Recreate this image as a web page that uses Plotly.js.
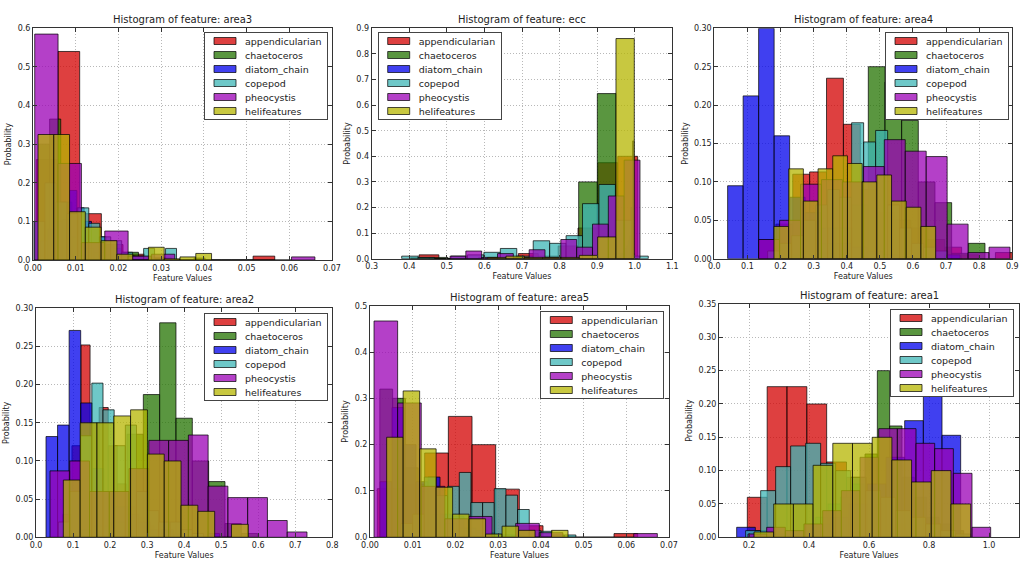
<!DOCTYPE html>
<html><head><meta charset="utf-8">
<script src="https://cdn.plot.ly/plotly-3.0.1.min.js"></script>
<style>html,body{margin:0;padding:0;background:#fff}#chart{width:1024px;height:576px}</style>
</head><body><div id="chart"></div>
<script>
// ---------------- data ----------------
const classes = ['appendicularian','chaetoceros','diatom_chain','copepod','pheocystis','helifeatures'];
const features = ['area3','ecc','area4','area2','area5','area1'];

// each series: histogram range [lo, hi] split into equal bins, probability per bin
const area3_lo = [0.00078, 0.00129, 0.00171, 0.00023, 0.0004, 0.00117];
const area3_hi = [0.0566, 0.04029, 0.0274, 0.0336, 0.066, 0.0418];
const area3_appendicularian = [0.26,0.54,0.12,0.04,0.015,0.005,0,0,0,0,0.01];
const area3_chaetoceros = [0.30,0.365,0.15,0.06,0.03,0.02,0.015,0.01,0.02,0.01,0.005,0.005,0,0,0.005];
const area3_diatom_chain = [0.05,0.08,0.1,0.105,0.18,0.135,0.10,0.08,0.06,0.04,0.03,0.02,0.01,0.005,0.005];
const area3_copepod = [0.1,0.2,0.15,0.12,0.135,0.095,0.06,0.05,0.02,0.01,0.03,0,0.03];
const area3_pheocystis = [0.585,0.25,0.045,0.075,0.01,0.015,0,0,0,0,0,0.008];
const area3_helifeatures = [0.325,0.325,0.125,0.085,0.05,0.015,0,0.033,0.003,0.008,0.017];

const ecc_lo = [0.4259, 0.4038, 0.95, 0.3798, 0.5084, 0.6086];
const ecc_hi = [1.0078, 0.9998, 0.998, 1.0361, 1.014, 0.9989];
const ecc_appendicularian = [0.015,0,0,0.005,0,0.02,0.01,0.05,0.12,0.375,0.40];
const ecc_chaetoceros = [0.005,0.005,0,0,0,0.005,0.005,0.005,0.005,0.30,0.645,0.02];
const ecc_diatom_chain = [0.005,0.01,0.01,0.015,0.02,0.03,0.04,0.05,0.07,0.09,0.2,0.46];
const ecc_copepod = [0.01,0.005,0,0.01,0.015,0.025,0.04,0.01,0.07,0.06,0.09,0.215,0.29,0.15,0.01];
const ecc_pheocystis = [0.01,0.03,0.005,0.02,0.005,0.035,0.005,0.075,0.045,0.135,0.245,0.385];
const ecc_helifeatures = [0.005,0.01,0.005,0.005,0.005,0.013,0.085,0.86];

const area4_lo = [0.1349, 0.2134, 0.0403, 0.1611, 0.1339, 0.1802];
const area4_hi = [0.9000, 0.8175, 0.7423, 0.7047, 0.893, 0.6685];
const area4_appendicularian = [0.025,0.045,0.11,0.113,0.235,0.175,0.09,0.06,0.05,0.04,0.025,0.015,0.005,0,0.008];
const area4_chaetoceros = [0.005,0.01,0.02,0.04,0.07,0.25,0.23,0.18,0.10,0.073,0.007,0.02];
const area4_diatom_chain = [0.095,0.212,0.30,0.16,0.08,0.06,0.04,0.02,0.015,0.01,0.005,0.003,0,0,0.005];
const area4_copepod = [0.01,0.02,0.03,0.05,0.07,0.09,0.08,0.177,0.152,0.167,0.07,0.04,0.02,0.015,0.01];
const area4_pheocystis = [0.025,0.05,0.097,0.103,0.10,0.12,0.155,0.14,0.133,0.045,0.008,0.015];
const area4_helifeatures = [0.042,0.117,0.075,0.117,0.134,0.124,0.10,0.109,0.075,0.067,0.042];

const area2_lo = [0.0725, 0.1134, 0.027, 0.0603, 0.0378, 0.0738];
const area2_hi = [0.3665, 0.5984, 0.4954, 0.4522, 0.7316, 0.5732];
const area2_appendicularian = [0.03,0.12,0.252,0.15,0.17,0.12,0.07,0.04,0.025,0.015,0.005,0.003];
const area2_chaetoceros = [0.01,0.015,0.02,0.135,0.187,0.281,0.156,0.10,0.073,0.018,0.005];
const area2_diatom_chain = [0.132,0.147,0.271,0.176,0.09,0.06,0.04,0.03,0.02,0.01,0.01,0.004,0,0,0.005];
const area2_copepod = [0.02,0.06,0.133,0.202,0.167,0.12,0.147,0.06,0.035,0.02,0.02,0.01,0.005];
const area2_pheocystis = [0.087,0.10,0.06,0.06,0.09,0.127,0.127,0.134,0.067,0.052,0.052,0.022,0.007];
const area2_helifeatures = [0.075,0.15,0.15,0.159,0.167,0.109,0.10,0.042,0.034,0,0.017];

const area5_lo = [0.00172, 0.0023, 0.00234, 0.00726, 0.00094, 0.0039];
const area5_hi = [0.06267, 0.0353, 0.0445, 0.0482, 0.06727, 0.04636];
const area5_appendicularian = [0.105,0.115,0.182,0.261,0.20,0.104,0.025,0,0,0,0.008];
const area5_chaetoceros = [0.32,0.3,0.15,0.1,0.05,0.03,0.02,0.01,0.01,0.005,0.005];
const area5_diatom_chain = [0.12,0.28,0.20,0.12,0.13,0.05,0.045,0.02,0.015,0.008,0.005,0.004,0.002,0.001,0];
const area5_copepod = [0.03,0.05,0.13,0.09,0.11,0.14,0.075,0.075,0.105,0.091,0.06,0.015,0.013,0.005,0.005];
const area5_pheocystis = [0.467,0.29,0.11,0.04,0.045,0,0.03,0.01,0,0,0,0.008];
const area5_helifeatures = [0.216,0.316,0.191,0.108,0.05,0.04,0.007,0.024,0.015,0,0.015];

const area1_lo = [0.1944, 0.34, 0.1589, 0.1889, 0.1967, 0.2167];
const area1_hi = [0.8556, 0.9156, 0.9056, 0.9389, 1.0056, 0.9389];
const area1_appendicularian = [0.06,0.226,0.226,0.20,0.113,0.09,0.05,0.02,0.01,0.005];
const area1_chaetoceros = [0.01,0.02,0.03,0.05,0.06,0.08,0.125,0.25,0.167,0.09,0.06,0.03,0.02,0.01];
const area1_diatom_chain = [0.015,0.01,0.005,0.01,0.02,0.03,0.05,0.08,0.12,0.175,0.32,0.153];
const area1_copepod = [0.01,0.07,0.106,0.137,0.141,0.111,0.10,0.09,0.07,0.06,0.04,0.03,0.02,0.01,0.005];
const area1_pheocystis = [0.005,0.015,0.01,0.02,0.04,0.07,0.12,0.163,0.163,0.141,0.133,0.096,0.015];
const area1_helifeatures = [0.008,0.05,0.05,0.108,0.141,0.141,0.15,0.116,0.083,0.10,0.05];

const xRanges = [[0,0.07],[0.3,1.1],[0,0.9],[0,0.8],[0,0.07],[0.1,1.1]];
const yRanges = [[0,0.6],[0,0.9],[0,0.30],[0,0.30],[0,0.5],[0,0.35]];
const xDticks = [0.01,0.1,0.1,0.1,0.01,0.2];
const yDticks = [0.1,0.1,0.05,0.05,0.1,0.05];
const xFormats = ['.2f','.1f','.1f','.1f','.2f','.1f'];
const yFormats = ['.1f','.1f','.2f','.2f','.1f','.2f'];

// lookup table built from the named arrays above
const table = {
  area3: {lo: area3_lo, hi: area3_hi, p: [area3_appendicularian, area3_chaetoceros, area3_diatom_chain, area3_copepod, area3_pheocystis, area3_helifeatures]},
  ecc:   {lo: ecc_lo,   hi: ecc_hi,   p: [ecc_appendicularian, ecc_chaetoceros, ecc_diatom_chain, ecc_copepod, ecc_pheocystis, ecc_helifeatures]},
  area4: {lo: area4_lo, hi: area4_hi, p: [area4_appendicularian, area4_chaetoceros, area4_diatom_chain, area4_copepod, area4_pheocystis, area4_helifeatures]},
  area2: {lo: area2_lo, hi: area2_hi, p: [area2_appendicularian, area2_chaetoceros, area2_diatom_chain, area2_copepod, area2_pheocystis, area2_helifeatures]},
  area5: {lo: area5_lo, hi: area5_hi, p: [area5_appendicularian, area5_chaetoceros, area5_diatom_chain, area5_copepod, area5_pheocystis, area5_helifeatures]},
  area1: {lo: area1_lo, hi: area1_hi, p: [area1_appendicularian, area1_chaetoceros, area1_diatom_chain, area1_copepod, area1_pheocystis, area1_helifeatures]}
};

// ---------------- styling ----------------
const fillColors = ['rgba(211,0,0,0.75)','rgba(35,115,0,0.75)','rgba(0,0,235,0.75)','rgba(61,181,181,0.75)','rgba(155,0,181,0.75)','rgba(181,181,0,0.75)'];
const edgeColor = 'rgba(0,0,0,0.7)';
// subplot boxes in pixels [left, right, top, bottom]
const boxes = [[33,332,28.3,260],[371.7,672.3,28.3,258.7],[714.3,1012.3,28.3,258.7],
               [36,332.3,308.3,537.3],[370,669,305.7,537.3],[719,1019,304,537.3]];
const legendPos = [{x:328,y:32,a:'right'},{x:377.7,y:32,a:'left'},{x:1009,y:32,a:'right'},
                   {x:328,y:313,a:'right'},{x:664.3,y:311,a:'right'},{x:1014,y:309,a:'right'}];
const W = 1024, H = 576;
const LEG_TOP = 9, LEG_STEP = 14, LEG_H = 88;

const data = [];
const layout = {
  width: W, height: H, margin: {l:0, r:0, t:0, b:0},
  barmode: 'overlay', paper_bgcolor: '#fff', plot_bgcolor: '#fff',
  font: {family: 'DejaVu Sans, sans-serif', size: 8, color: '#222'},
  showlegend: true, annotations: []
};

features.forEach((f, k) => {
  const t = table[f];
  const sfx = k === 0 ? '' : String(k + 1);
  const legName = 'legend' + sfx;
  classes.forEach((c, s) => {
    const p = t.p[s];
    const n = p.length;
    const w = (t.hi[s] - t.lo[s]) / n;
    const xs = p.map((_, i) => t.lo[s] + w * (i + 0.5));
    data.push({
      type: 'bar', name: c, x: xs, y: p, width: w,
      xaxis: 'x' + sfx, yaxis: 'y' + sfx, legend: legName,
      marker: {color: fillColors[s], line: {color: edgeColor, width: 1}},
      hoverinfo: 'skip'
    });
  });
  const b = boxes[k];
  const common = {
    showline: true, linecolor: '#333', linewidth: 1, mirror: 'ticks',
    ticks: 'inside', ticklen: 4, tickcolor: '#333',
    showgrid: true, gridcolor: '#b8b8b8', griddash: '1px,2px', gridwidth: 1,
    zeroline: false, automargin: false, tickfont: {size: 8, color: '#222'}
  };
  layout['xaxis' + sfx] = Object.assign({}, common, {
    domain: [b[0] / W, b[1] / W], anchor: 'y' + sfx,
    range: xRanges[k], dtick: xDticks[k], tick0: 0, tickformat: xFormats[k],
    title: {text: 'Feature Values', font: {size: 8}, standoff: 3}
  });
  layout['yaxis' + sfx] = Object.assign({}, common, {
    domain: [1 - b[3] / H, 1 - b[2] / H], anchor: 'x' + sfx,
    range: yRanges[k], dtick: yDticks[k], tick0: 0, tickformat: yFormats[k],
    title: {text: 'Probability', font: {size: 8}, standoff: 4}
  });
  const lp = legendPos[k];
  layout[legName] = {
    x: lp.x / W, y: 1 - lp.y / H, xanchor: lp.a, yanchor: 'top',
    bgcolor: '#fff', bordercolor: '#444', borderwidth: 1,
    font: {size: 9.5, color: '#222'}, traceorder: 'normal', itemwidth: 30, tracegroupgap: 0
  };
  layout.annotations.push({
    text: 'Histogram of feature: ' + f, xref: 'x' + sfx + ' domain', yref: 'y' + sfx + ' domain',
    x: 0.5, y: 1, xanchor: 'center', yanchor: 'bottom', yshift: 1, showarrow: false,
    font: {size: 10, color: '#222'}
  });
});

// compact the legend rows (matplotlib-style spacing) and use wide patches
function compactLegends(gd) {
  features.forEach((f, k) => {
    const name = 'legend' + (k === 0 ? '' : String(k + 1));
    const g = gd.querySelector('g.' + name);
    if (!g) return;
    const items = g.querySelectorAll('g.traces');
    items.forEach((tr, i) => {
      const tf = tr.getAttribute('transform') || '';
      const m = tf.match(/translate\(\s*([-\d.]+)[ ,]+([-\d.]+)/);
      const tx = m ? parseFloat(m[1]) : 1;
      tr.setAttribute('transform', 'translate(' + tx + ',' + (LEG_TOP + i * LEG_STEP) + ')');
      tr.querySelectorAll('g.legendpoints path').forEach(pth => {
        pth.setAttribute('d', 'M11,3.5H-11V-3.5H11Z');
      });
    });
    const bg = g.querySelector('rect.bg');
    if (bg) bg.setAttribute('height', LEG_H - 1);
  });
}

Plotly.newPlot('chart', data, layout, {displayModeBar: false, staticPlot: true})
  .then(gd => { try { compactLegends(gd); } catch (e) {} });
</script>
</body></html>
